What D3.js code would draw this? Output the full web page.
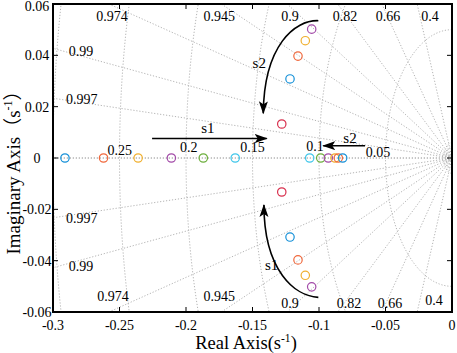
<!DOCTYPE html>
<html><head><meta charset="utf-8">
<script src="https://cdn.jsdelivr.net/npm/d3@7"></script>
<style>html,body{margin:0;padding:0;background:#fff;}svg{display:block;}</style>
</head><body>
<script>
// ---- data ----
const xTicks = [-0.3, -0.25, -0.2, -0.15, -0.1, -0.05, 0];
const xTickLabels = ["-0.3", "-0.25", "-0.2", "-0.15", "-0.1", "-0.05", "0"];
const yTicks = [0.06, 0.04, 0.02, 0, -0.02, -0.04, -0.06];
const yTickLabels = ["0.06", "0.04", "0.02", "0", "-0.02", "-0.04", "-0.06"];

// grid: damping ratios and natural frequencies
const dampingValues = [0.4, 0.66, 0.82, 0.9, 0.945, 0.974, 0.99, 0.997, 1];
const wnValues = [0.05, 0.1, 0.15, 0.2, 0.25, 0.3];
const wnTiny = [0.0015, 0.003, 0.0045, 0.006];

// damping labels (text, data-space anchor)
const zetaLabelText = ["0.974", "0.945", "0.9", "0.82", "0.66", "0.4", "0.99", "0.997",
                       "0.997", "0.99", "0.974", "0.945", "0.9", "0.82", "0.66", "0.4"];
const zetaLabelX = [-0.2556, -0.175, -0.1218, -0.0805, -0.0481, -0.0165, -0.279, -0.2784,
                    -0.2784, -0.279, -0.2549, -0.175, -0.1218, -0.0775, -0.0466, -0.0135];
const zetaLabelY = [0.0553, 0.0553, 0.0553, 0.0553, 0.0553, 0.0553, 0.0413, 0.0226,
                    -0.0234, -0.0421, -0.0541, -0.0541, -0.0565, -0.0565, -0.0565, -0.0557];

// natural frequency labels
const wnLabelText = ["0.25", "0.2", "0.15", "0.1", "0.05"];
const wnLabelX = [-0.2498, -0.1980, -0.1500, -0.1030, -0.0556];
const wnLabelY = [0.0031, 0.0039, 0.0039, 0.0043, 0.0020];

// poles
const colorBlue = "#1590d8", colorOrange = "#f0683c", colorYellow = "#f0b030",
      colorPurple = "#a24aa8", colorGreen = "#6cae3c", colorCyan = "#3fc6ea", colorRed = "#d8304e";
const poleRe = [-0.291, -0.262, -0.236, -0.211, -0.187, -0.163,
                -0.107, -0.0987, -0.093, -0.088, -0.0855, -0.0822,
                -0.1055, -0.1103, -0.1158, -0.1218, -0.128,
                -0.1055, -0.1103, -0.1158, -0.1218, -0.128];
const poleIm = [0, 0, 0, 0, 0, 0,
                0, 0, 0, 0, 0, 0,
                0.0502, 0.0457, 0.0397, 0.0308, 0.01325,
                -0.0502, -0.0457, -0.0397, -0.0308, -0.01325];
const poleColor = [colorBlue, colorOrange, colorYellow, colorPurple, colorGreen, colorCyan,
                   colorCyan, colorGreen, colorPurple, colorYellow, colorOrange, colorBlue,
                   colorPurple, colorYellow, colorOrange, colorBlue, colorRed,
                   colorPurple, colorYellow, colorOrange, colorBlue, colorRed];

// arrows (data space)
const straightArrows = [
  {x1: -0.2255, y1: 0.0076, x2: -0.1393, y2: 0.0076},
  {x1: -0.0654, y1: 0.0048, x2: -0.0968, y2: 0.0048}
];
const curvedArrows = [
  [[-0.1005, 0.0535], [-0.118, 0.0538], [-0.1414, 0.044], [-0.1419, 0.0174]],
  [[-0.1005, -0.0543], [-0.118, -0.0538], [-0.1414, -0.044], [-0.1414, -0.0183]]
];
const arrowLabelText = ["s1", "s2", "s2", "s1"];
const arrowLabelX = [-0.1835, -0.0767, -0.1449, -0.1356];
const arrowLabelY = [0.0117, 0.0079, 0.0369, -0.0417];

// ---- drawing ----
const W = 457, H = 353;
const L = 53, R = 452, T = 4, B = 312;
const x = d3.scaleLinear().domain([-0.3, 0]).range([L, R]);
const y = d3.scaleLinear().domain([-0.06, 0.06]).range([B, T]);
const serif = "'Liberation Serif','Times New Roman',serif";

const svg = d3.select("body").append("svg").attr("width", W).attr("height", H);
svg.append("rect").attr("width", W).attr("height", H).attr("fill", "#fff");

svg.append("defs").append("clipPath").attr("id", "clip")
  .append("rect").attr("x", L).attr("y", T).attr("width", R - L).attr("height", B - T);
const defs = svg.select("defs");
defs.append("marker").attr("id", "ah").attr("markerUnits", "userSpaceOnUse")
  .attr("markerWidth", 14).attr("markerHeight", 10).attr("refX", 12).attr("refY", 4.5)
  .attr("orient", "auto")
  .append("path").attr("d", "M0,0 L13,4.5 L0,9 L3,4.5 Z").attr("fill", "#000");

const grid = svg.append("g").attr("clip-path", "url(#clip)")
  .attr("fill", "none").attr("stroke", "#b4b4b4").attr("stroke-width", 1)
  .attr("stroke-dasharray", "1.2,1.8");

// damping rays
dampingValues.forEach(z => {
  const s = Math.sqrt(1 - z * z);
  [1, -1].forEach(sg => {
    grid.append("line")
      .attr("x1", x(0)).attr("y1", y(0))
      .attr("x2", x(-0.5 * z)).attr("y2", y(sg * 0.5 * s));
  });
});
// natural frequency arcs
const arcLine = d3.line().x(d => x(d[0])).y(d => y(d[1]));
wnValues.concat(wnTiny).forEach(w => {
  const pts = d3.range(0, 181).map(i => {
    const a = Math.PI / 2 + i * Math.PI / 180;
    return [w * Math.cos(a), w * Math.sin(a)];
  });
  grid.append("path").attr("d", arcLine(pts));
});

// grid labels
const lab = svg.append("g").attr("font-family", serif).attr("font-size", 14)
  .attr("fill", "#000").attr("text-anchor", "middle").attr("dominant-baseline", "central");
zetaLabelText.forEach((t, i) => {
  lab.append("text").attr("x", x(zetaLabelX[i])).attr("y", y(zetaLabelY[i])).text(t);
});
wnLabelText.forEach((t, i) => {
  lab.append("text").attr("x", x(wnLabelX[i])).attr("y", y(wnLabelY[i])).text(t);
});

// poles
svg.append("g").selectAll("circle").data(poleRe).join("circle")
  .attr("cx", (d, i) => x(d)).attr("cy", (d, i) => y(poleIm[i]))
  .attr("r", 4.2).attr("fill", "none")
  .attr("stroke", (d, i) => poleColor[i]).attr("stroke-width", 1.2);

// arrows
const ag = svg.append("g").attr("stroke", "#000").attr("stroke-width", 1.6).attr("fill", "none");
straightArrows.forEach(a => {
  ag.append("line").attr("x1", x(a.x1)).attr("y1", y(a.y1))
    .attr("x2", x(a.x2)).attr("y2", y(a.y2)).attr("marker-end", "url(#ah)");
});
curvedArrows.forEach(c => {
  const p = d3.path();
  p.moveTo(x(c[0][0]), y(c[0][1]));
  p.bezierCurveTo(x(c[1][0]), y(c[1][1]), x(c[2][0]), y(c[2][1]), x(c[3][0]), y(c[3][1]));
  ag.append("path").attr("d", p.toString()).attr("marker-end", "url(#ah)");
});
arrowLabelText.forEach((t, i) => {
  lab.append("text").attr("x", x(arrowLabelX[i])).attr("y", y(arrowLabelY[i]))
    .attr("font-size", 15).text(t);
});

// axes box & ticks
const ax = svg.append("g").attr("stroke", "#000");
const tl = 5;
xTicks.forEach(v => {
  ax.append("line").attr("x1", x(v)).attr("x2", x(v)).attr("y1", B).attr("y2", B - tl).attr("stroke-width", 1);
  ax.append("line").attr("x1", x(v)).attr("x2", x(v)).attr("y1", T).attr("y2", T + tl).attr("stroke-width", 1);
});
yTicks.forEach(v => {
  ax.append("line").attr("y1", y(v)).attr("y2", y(v)).attr("x1", L).attr("x2", L + tl).attr("stroke-width", 1);
  ax.append("line").attr("y1", y(v)).attr("y2", y(v)).attr("x1", R).attr("x2", R - tl).attr("stroke-width", 1);
});
ax.append("rect").attr("x", L).attr("y", T).attr("width", R - L).attr("height", B - T)
  .attr("fill", "none").attr("stroke-width", 2);

const tk = svg.append("g").attr("font-family", serif).attr("font-size", 14).attr("fill", "#000")
  .attr("text-anchor", "middle");
xTicks.forEach((v, i) => {
  tk.append("text").attr("x", x(v)).attr("y", B + 18).text(xTickLabels[i]);
});
yTicks.forEach((v, i) => {
  tk.append("text").attr("x", 37).attr("y", Math.max(y(v) + 5, 11)).text(yTickLabels[i]);
});

// axis titles
const xt = svg.append("text").attr("font-family", serif).attr("font-size", 18.5)
  .attr("text-anchor", "middle").attr("x", 246).attr("y", 349);
xt.append("tspan").text("Real Axis(s");
xt.append("tspan").attr("font-size", 11.5).attr("dy", -7).text("-1");
xt.append("tspan").attr("dy", 7).text(")");

const yt = svg.append("text").attr("font-family", serif + ",'Noto Sans CJK SC'").attr("font-size", 19)
  .attr("text-anchor", "middle").attr("transform", "translate(20,168) rotate(-90)");
yt.append("tspan").text("Imaginary Axis\uFF08s");
yt.append("tspan").attr("font-size", 12).attr("dy", -8).text("-1");
yt.append("tspan").attr("dy", 8).text("\uFF09");
</script>
</body></html>
